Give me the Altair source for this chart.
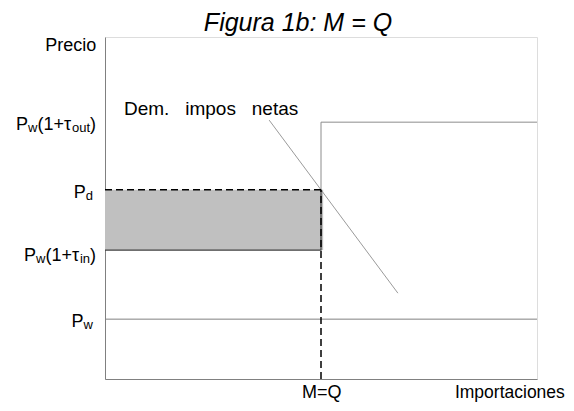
import altair as alt
import pandas as pd

# ---- values (data units: x 0..100, y 0..100) ----
x_max = 100.0
q_mq = 50.0             # M = Q
p_w = 17.5              # P_w
p_w_in = 37.7           # P_w(1+tau_in)
p_d = 55.3              # P_d
p_w_out = 75.1          # P_w(1+tau_out)
demand_x = [38.0, 67.8]
demand_y = [75.7, 25.1]

label_names = ["out", "d", "in", "w"]
label_base_y = [72.8, 52.9, 34.5, 15.2]   # text baselines
label_parts = [
    [("P", 0), ("w", 1), ("(1+τ", 0), ("out", 1), (")", 0)],
    [("P", 0), ("d", 1)],
    [("P", 0), ("w", 1), ("(1+τ", 0), ("in", 1), (")", 0)],
    [("P", 0), ("w", 1)],
]

W, H = 432, 342
FONT = "Liberation Sans"
MAIN, SUB = 18, 13
px_per_x = W / x_max

glyph_w = {"P": .667, "w": .722, "d": .556, "(": .333, ")": .333, "1": .556,
           "+": .584, "τ": .44, "o": .556, "u": .556, "t": .278, "i": .222,
           "n": .556}


def text_w(s, size):
    return sum(glyph_w.get(c, .556) for c in s) * size


pieces = []
for name, yb, parts in zip(label_names, label_base_y, label_parts):
    widths = [text_w(t, SUB if sub else MAIN) for t, sub in parts]
    total = sum(widths)
    right_px = [-9, -12, -9, -12][label_names.index(name)]
    cur = right_px - total
    for (t, sub), w in zip(parts, widths):
        pieces.append({"t": t, "x": cur / px_per_x, "y": yb, "sub": sub})
        cur += w
pieces = pd.DataFrame(pieces)

xs = alt.Scale(domain=[0, x_max], nice=False, zero=False)
ys = alt.Scale(domain=[0, 100], nice=False, zero=False)
ax = dict(domain=True, domainColor="#808080", domainWidth=1, ticks=False,
          labels=False, grid=False, title=None)

rect_df = pd.DataFrame({"x": [0.0], "x2": [q_mq + 0.5], "y": [p_w_in], "y2": [p_d]})
rect = alt.Chart(rect_df).mark_rect(fill="#c0c0c0").encode(
    x=alt.X("x:Q", scale=xs, axis=alt.Axis(**ax)),
    x2="x2:Q",
    y=alt.Y("y:Q", scale=ys, axis=alt.Axis(**ax)),
    y2="y2:Q",
)

# supply step: lower (dark) and upper (grey) parts
lower_df = pd.DataFrame({"x": [0.0, q_mq, q_mq], "y": [p_w_in, p_w_in, p_d], "o": [0, 1, 2]})
upper_df = pd.DataFrame({"x": [q_mq, q_mq, x_max], "y": [p_d, p_w_out, p_w_out], "o": [0, 1, 2]})
lower = alt.Chart(lower_df).mark_line(color="#404040", strokeWidth=1.2).encode(
    x=alt.X("x:Q", scale=xs), y=alt.Y("y:Q", scale=ys), order="o:Q")
upper = alt.Chart(upper_df).mark_line(color="#8c8c8c", strokeWidth=1).encode(
    x=alt.X("x:Q", scale=xs), y=alt.Y("y:Q", scale=ys), order="o:Q")

pw_df = pd.DataFrame({"x": [0.0], "x2": [x_max], "y": [p_w]})
pw_line = alt.Chart(pw_df).mark_rule(color="#808080", strokeWidth=1).encode(
    x=alt.X("x:Q", scale=xs), x2="x2:Q", y=alt.Y("y:Q", scale=ys))

dem_df = pd.DataFrame({"x": demand_x, "y": demand_y})
demand = alt.Chart(dem_df).mark_line(color="#808080", strokeWidth=0.8).encode(
    x=alt.X("x:Q", scale=xs), y=alt.Y("y:Q", scale=ys))

dash_df = pd.DataFrame({"x": [0.0, q_mq], "x2": [q_mq, q_mq], "y": [p_d, 0.0], "y2": [p_d, p_d]})
dashes = alt.Chart(dash_df).mark_rule(color="black", strokeWidth=1.5, strokeDash=[7, 4]).encode(
    x=alt.X("x:Q", scale=xs), x2="x2:Q", y=alt.Y("y:Q", scale=ys), y2="y2:Q")

main_txt = alt.Chart(pieces[pieces["sub"] == 0]).mark_text(
    font=FONT, fontSize=MAIN, align="left", baseline="alphabetic", color="black").encode(
    x=alt.X("x:Q", scale=xs), y=alt.Y("y:Q", scale=ys), text="t:N")
sub_txt = alt.Chart(pieces[pieces["sub"] == 1]).mark_text(
    font=FONT, fontSize=SUB, align="left", baseline="alphabetic", dy=2, color="black").encode(
    x=alt.X("x:Q", scale=xs), y=alt.Y("y:Q", scale=ys), text="t:N")

annot_df = pd.DataFrame({
    "t": ["Precio", "M=Q"],
    "x": [-2.0, 50.2],
    "y": [95.9, -5.7],
    "a": ["right", "center"],
})
annots = []
for al in ["right", "center"]:
    annots.append(alt.Chart(annot_df[annot_df["a"] == al]).mark_text(
        font=FONT, fontSize=MAIN, align=al, baseline="alphabetic", color="black").encode(
        x=alt.X("x:Q", scale=xs), y=alt.Y("y:Q", scale=ys), text="t:N"))

imp_df = pd.DataFrame({"t": ["Importaciones"], "x": [81.0], "y": [-5.7]})
imp_lab = alt.Chart(imp_df).mark_text(
    font=FONT, fontSize=17.5, align="left", baseline="alphabetic", color="black").encode(
    x=alt.X("x:Q", scale=xs), y=alt.Y("y:Q", scale=ys), text="t:N")

dem_lab_df = pd.DataFrame({"t": ["Dem.\u00a0\u00a0\u00a0impos\u00a0\u00a0\u00a0netas"], "x": [4.4], "y": [77.2]})
dem_lab = alt.Chart(dem_lab_df).mark_text(
    font=FONT, fontSize=19, align="left", baseline="alphabetic", color="black").encode(
    x=alt.X("x:Q", scale=xs), y=alt.Y("y:Q", scale=ys), text="t:N")

chart = alt.layer(rect, pw_line, upper, demand, lower, dashes, main_txt, sub_txt, dem_lab, imp_lab, *annots).properties(
    width=W, height=H,
    title=alt.TitleParams("Figura 1b: M = Q", font=FONT, fontSize=25, fontStyle="italic",
                          fontWeight="normal", anchor="middle", dx=-23, offset=1, color="black"),
    autosize=alt.AutoSizeParams(type="none"),
    padding={"left": 97, "top": 29, "right": 29, "bottom": 24},
).configure_view(stroke=None).configure(background="white")

chart.save("out.html", embed_options={"renderer": "svg", "actions": False})
